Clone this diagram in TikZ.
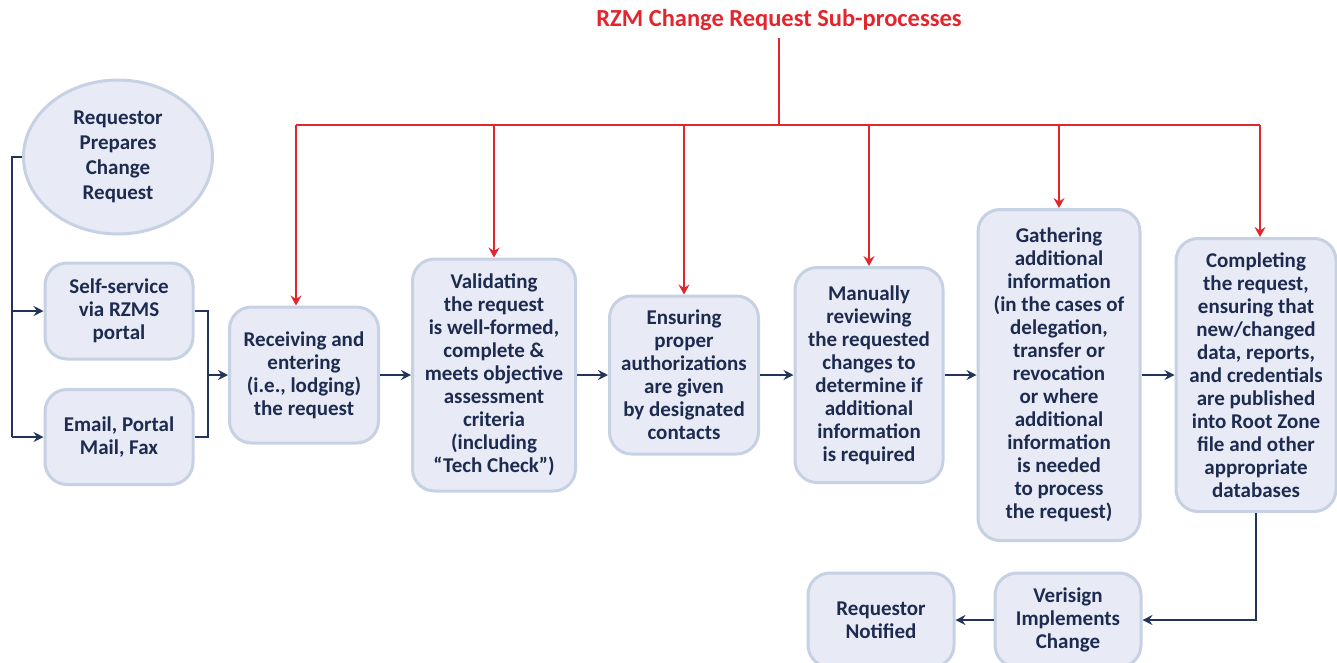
\documentclass[tikz,border=0pt]{standalone}
\usepackage{fontspec}
\setmainfont{Carlito}
\usetikzlibrary{shapes.geometric,arrows.meta}
\definecolor{boxfill}{HTML}{E8EBF5}
\definecolor{boxline}{HTML}{C6D1E4}
\definecolor{navy}{HTML}{1C2B4F}
\definecolor{conn}{HTML}{22345A}
\definecolor{rzred}{HTML}{E3262E}
\tikzset{
  stepbox/.style={draw=boxline, fill=boxfill, line width=3pt, rounded corners=22pt,
    align=center, text=navy, inner sep=0pt, font=\bfseries\fontsize{21}{23}\selectfont},
  ovalbox/.style={ellipse, draw=boxline, fill=boxfill, line width=3pt,
    align=center, text=navy, inner sep=0pt, font=\bfseries\fontsize{21}{25}\selectfont},
  navyline/.style={draw=conn, line width=1.6pt},
  navyarrow/.style={navyline, -{Stealth[length=10pt,width=10pt,inset=3.5pt]}},
  redline/.style={draw=rzred, line width=1.6pt},
  redarrow/.style={redline, -{Stealth[length=10pt,width=11pt,inset=3.5pt]}},
}
\begin{document}
\begin{tikzpicture}[x=1pt,y=-1pt]
\useasboundingbox (0,0) rectangle (1337,662);
% title
\node[text=rzred, font=\bfseries\fontsize{24.5}{27}\selectfont] (title) at (779,20) {RZM Change Request Sub-processes};
% nodes
\node[ovalbox, minimum width=189pt, minimum height=154pt] (ell) at (118,157) {Requestor\\Prepares\\Change\\Request};
\node[stepbox, minimum width=148pt, minimum height=96pt] (ss) at (119,311) {Self-service\\via RZMS\\portal};
\node[stepbox, minimum width=148pt, minimum height=95pt] (em) at (119,437) {Email, Portal\\Mail, Fax};
\node[stepbox, minimum width=149pt, minimum height=136pt] (rec) at (304,375) {Receiving and\\entering\\(i.e., lodging)\\the request};
\node[stepbox, minimum width=163pt, minimum height=232pt] (val) at (494,375) {Validating\\the request\\is well-formed,\\complete \&\\meets objective\\assessment\\criteria\\(including\\“Tech Check”)};
\node[stepbox, minimum width=149pt, minimum height=158pt] (ens) at (684,375) {Ensuring\\proper\\authorizations\\are given\\by designated\\contacts};
\node[stepbox, minimum width=148pt, minimum height=215pt] (man) at (869,375) {Manually\\reviewing\\the requested\\changes to\\determine if\\additional\\information\\is required};
\node[stepbox, minimum width=162pt, minimum height=331pt] (gat) at (1059,375) {Gathering\\additional\\information\\(in the cases of\\delegation,\\transfer or\\revocation\\or where\\additional\\information\\is needed\\to process\\the request)};
\node[stepbox, minimum width=160pt, minimum height=273pt] (comp) at (1256,375) {Completing\\the request,\\ensuring that\\new/changed\\data, reports,\\and credentials\\are published\\into Root Zone\\file and other\\appropriate\\databases};
\node[stepbox, minimum width=146pt, minimum height=94pt] (ver) at (1068,620) {Verisign\\Implements\\Change};
\node[stepbox, minimum width=146pt, minimum height=94pt] (rn) at (881,620) {Requestor\\Notified};
% left connectors
\coordinate (lt) at (12,157);
\coordinate (lm) at (12,311);
\coordinate (lb) at (12,437);
\draw[navyline] (ell.west) -- (lt) -- (lb);
\draw[navyarrow] (lm) -- (ss.west);
\draw[navyarrow] (lb) -- (em.west);
\coordinate (mt) at (208,311);
\coordinate (mm) at (208,375);
\coordinate (mb) at (208,437);
\draw[navyline] (ss.east) -- (mt) -- (mb) -- (em.east);
\draw[navyarrow] (mm) -- (rec.west);
% main flow
\draw[navyarrow] (rec.east) -- (val.west);
\draw[navyarrow] (val.east) -- (ens.west);
\draw[navyarrow] (ens.east) -- (man.west);
\draw[navyarrow] (man.east) -- (gat.west);
\draw[navyarrow] (gat.east) -- (comp.west);
\draw[navyarrow] (comp.south) |- (ver.east);
\draw[navyarrow] (ver.west) -- (rn.east);
% red tree
\coordinate (rtop) at (779,38);
\coordinate (rmid) at (779,125);
\coordinate (rl) at (296,125);
\coordinate (rr) at (1260,125);
\draw[redline] (rtop) -- (rmid);
\draw[redline] (rl) -- (rr);
\draw[redarrow] (rl) -- (rl |- rec.north);
\foreach \n in {val,ens,man,gat}
  \draw[redarrow] (\n.north |- rmid) -- (\n.north);
\draw[redarrow] (rr) -- (rr |- comp.north);
\end{tikzpicture}
\end{document}
